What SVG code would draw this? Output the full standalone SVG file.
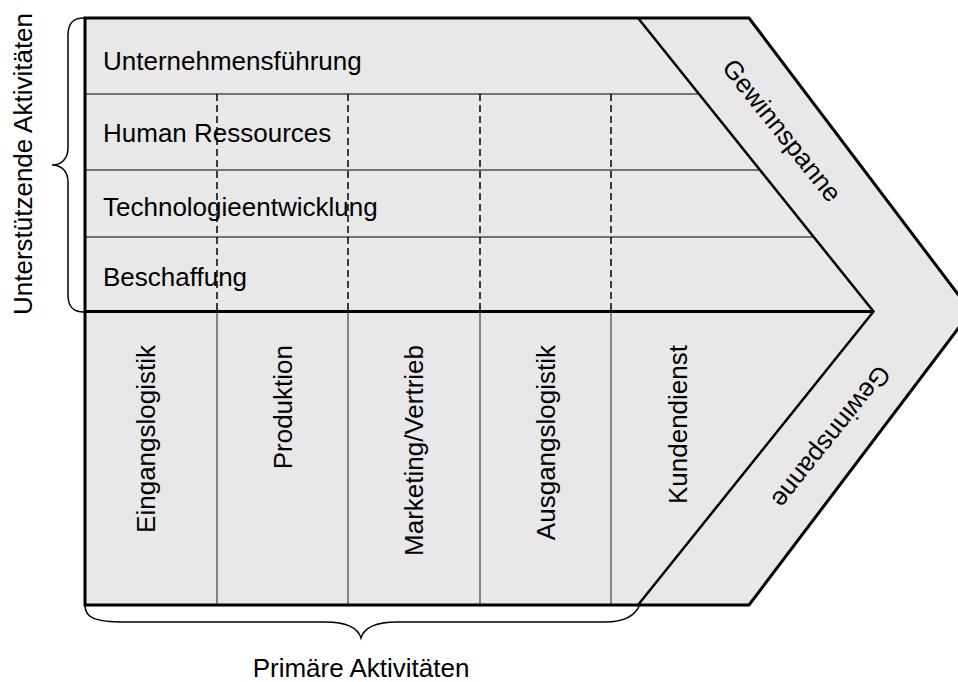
<svg xmlns="http://www.w3.org/2000/svg" width="958" height="682" viewBox="0 0 958 682">
<style>
  text { font-family: "Liberation Sans", Arial, sans-serif; font-size: 26px; fill: #000; }
  .thick { fill: none; stroke: #000; stroke-width: 3; stroke-linejoin: miter; }
  .chev { fill: none; stroke: #000; stroke-width: 2.5; }
  .row { stroke: #4d4d4d; stroke-width: 1.5; }
  .col { stroke: #444; stroke-width: 1.2; }
  .dash { stroke: #000; stroke-width: 1.5; stroke-dasharray: 7 4; }
  .brace { fill: none; stroke: #000; stroke-width: 1.5; }
</style>
<rect width="958" height="682" fill="#fff"/>
<g id="value-chain-body">
  <polygon points="85,18 749,18 971,311.5 749,605 85,605" fill="#e8e8e8" stroke="none"/>
</g>
<g id="support-activities">
  <g id="row-unternehmensfuehrung">
    <line class="row" x1="85" y1="94" x2="699" y2="94"/>
    <text x="103" y="70">Unternehmensführung</text>
  </g>
  <g id="row-human-ressources">
    <line class="row" x1="85" y1="170" x2="760" y2="170"/>
    <text x="103" y="142">Human Ressources</text>
  </g>
  <g id="row-technologieentwicklung">
    <line class="row" x1="85" y1="237" x2="814" y2="237"/>
    <text x="103" y="216">Technologieentwicklung</text>
  </g>
  <g id="row-beschaffung">
    <text x="103" y="286">Beschaffung</text>
  </g>
</g>
<g id="connectors">
  <line class="dash" x1="217" y1="94" x2="217" y2="311"/>
  <line class="dash" x1="348" y1="94" x2="348" y2="311"/>
  <line class="dash" x1="480" y1="94" x2="480" y2="311"/>
  <line class="dash" x1="611" y1="94" x2="611" y2="311"/>
  <line class="col" x1="217" y1="312" x2="217" y2="605"/>
  <line class="col" x1="348" y1="312" x2="348" y2="605"/>
  <line class="col" x1="480" y1="312" x2="480" y2="605"/>
  <line class="col" x1="611" y1="312" x2="611" y2="605"/>
</g>
<g id="primary-activities">
  <g id="col-eingangslogistik"><text transform="translate(155,345) rotate(-90)" text-anchor="end">Eingangslogistik</text></g>
  <g id="col-produktion"><text transform="translate(292,345) rotate(-90)" text-anchor="end">Produktion</text></g>
  <g id="col-marketing"><text transform="translate(423,345) rotate(-90)" text-anchor="end">Marketing/Vertrieb</text></g>
  <g id="col-ausgangslogistik"><text transform="translate(555,345) rotate(-90)" text-anchor="end">Ausgangslogistik</text></g>
  <g id="col-kundendienst"><text transform="translate(687,345) rotate(-90)" text-anchor="end">Kundendienst</text></g>
</g>
<g id="margin">
  <polyline class="chev" points="638,18 873.5,311.5 638,605"/>
  <text transform="translate(775,136) rotate(51.5)" text-anchor="middle">Gewinnspanne</text>
  <text transform="translate(824.3,431.4) rotate(128.5)" text-anchor="middle">Gewinnspanne</text>
</g>
<g id="frame">
  <line class="thick" x1="85" y1="311.5" x2="873.5" y2="311.5"/>
  <polygon class="thick" points="85,18 749,18 971,311.5 749,605 85,605"/>
</g>
<g id="support-label">
  <path class="brace" d="M84,18 C74,18 68,22 68,35 L68,148 C68,158 62,165 52,165 C62,165 68,172 68,182 L68,295 C68,308 74,312 84,312"/>
  <text transform="translate(32,164) rotate(-90)" text-anchor="middle">Unterstützende Aktivitäten</text>
</g>
<g id="primary-label">
  <path class="brace" d="M85,605 C85,618 95,622 125,622 L325,622 C348,622 358,628 361,638 C364,628 374,622 397,622 L605,622 C625,622 636,615 640,604"/>
  <text x="361" y="677" text-anchor="middle">Primäre Aktivitäten</text>
</g>
</svg>
